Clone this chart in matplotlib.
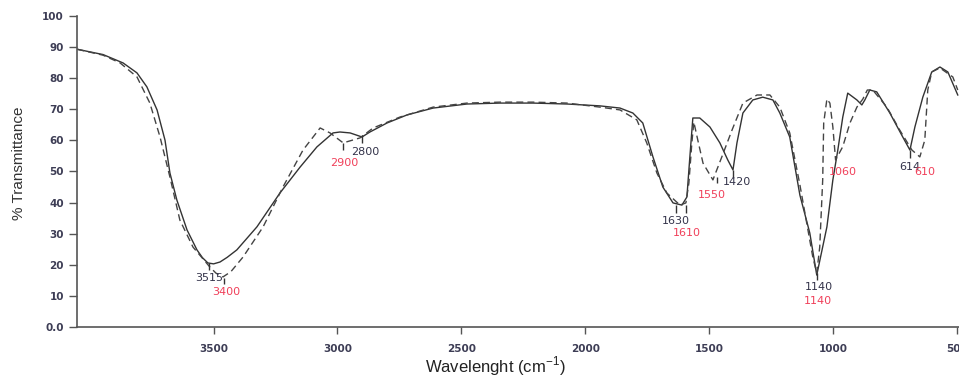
import matplotlib
matplotlib.use('Agg')
import matplotlib.pyplot as plt

# 데이터
solid_x = [4050, 3946, 3865, 3809, 3769, 3728, 3696, 3676, 3648, 3607, 3567, 3545, 3523, 3500, 3474,
           3445, 3406, 3325, 3232, 3151, 3083, 3018, 2990, 2949, 2901, 2869, 2800, 2719, 2614, 2477,
           2344, 2211, 2074, 1941, 1860, 1808, 1768, 1727, 1687, 1646, 1610, 1590, 1578, 1566, 1538,
           1497, 1457, 1425, 1404, 1388, 1364, 1324, 1284, 1243, 1215, 1175, 1134, 1094, 1066,
           1025, 1001, 981, 961, 941, 904, 884, 872, 852, 824, 771, 719, 690, 670, 638, 602,
           569, 537, 497]
solid_y = [89.3, 87.6, 84.9, 81.7, 77.2, 69.8, 60.1, 49.5, 40.8, 31.2, 24.8, 22.3, 20.6, 20.3, 20.9,
           22.4, 24.8, 32.2, 43.1, 51.4, 57.9, 62.4, 62.7, 62.4, 61.1, 62.7, 65.6, 68.2, 70.4, 71.7,
           72.0, 72.0, 71.7, 71.1, 70.4, 68.8, 65.6, 54.7, 45.0, 39.9, 39.2, 41.8, 54.7, 67.2, 67.2,
           64.3, 59.2, 53.7, 50.5, 59.2, 68.8, 73.0, 73.9, 73.0, 68.8, 61.1, 42.4, 30.2, 16.7,
           32.2, 47.3, 56.9, 67.5, 75.2, 73.0, 71.4, 73.0, 76.2, 75.6, 68.8, 61.1, 56.9, 64.3, 73.9, 82.0,
           83.6, 82.0, 74.6]

dash_x = [4050, 3946, 3877, 3809, 3757, 3716, 3676, 3636, 3583, 3515, 3490, 3462, 3430, 3381, 3300,
          3220, 3139, 3070, 3030, 2977, 2909, 2856, 2748, 2614, 2477, 2344, 2211, 2074, 1941, 1860,
          1792, 1752, 1711, 1671, 1618, 1594, 1582, 1570, 1562, 1546, 1525, 1485, 1449, 1408,
          1364, 1307, 1255, 1215, 1175, 1134, 1082, 1066, 1054, 1042, 1038, 1025, 1013, 1001,
          990, 961, 932, 904, 880, 862, 840, 783, 731, 682, 650, 630, 618, 602, 569, 517, 497]
dash_y = [89.3, 87.4, 84.9, 80.4, 72.0, 61.1, 48.2, 34.4, 25.7, 19.3, 17.3, 16.1, 17.8, 22.5, 32.2,
          45.0, 56.9, 64.0, 62.4, 59.2, 60.8, 64.0, 67.5, 70.7, 72.0, 72.3, 72.3, 72.0, 70.7, 69.8,
          66.6, 59.2, 49.5, 43.1, 39.2, 39.9, 46.3, 59.2, 65.9, 60.1, 52.7, 47.3, 54.7, 63.3,
          72.0, 74.6, 74.6, 70.7, 62.4, 45.7, 22.5, 17.4, 25.7, 47.3, 65.6, 73.3, 72.0, 64.3,
          53.7, 58.0, 65.6, 70.7, 73.3, 76.2, 76.2, 70.7, 63.3, 56.9, 54.7, 60.1, 76.2, 82.0,
          83.3, 80.4, 76.2]

# 피크 표시선 (x, 위, 아래)
mark_x = [3519, 2901, 1634, 1404, 1066, 690, 3458, 2977, 1595, 1469]
mark_top = [20.6, 61.7, 39.2, 50.5, 17.4, 56.9, 15.8, 59.2, 39.2, 48.2]
mark_bot = [18.3, 59.2, 36.7, 47.9, 15.1, 54.3, 13.8, 56.9, 36.7, 46.3]

# 피크 라벨
black_labels = ['3515', '2800', '1630', '1420', '1140', '614']
black_lx = [3519, 2889, 1634, 1390, 1059, 690]
black_ly = [15.9, 56.3, 34.2, 46.5, 12.9, 51.6]
red_labels = ['3400', '2900', '1610', '1550', '1140', '1060', '610']
red_lx = [3450, 2973, 1590, 1489, 1061, 961, 631]
red_ly = [11.3, 52.6, 30.1, 42.3, 8.4, 49.7, 49.7]

xticks = [3500, 3000, 2500, 2000, 1500, 1000, 500]
yticks = [0, 10, 20, 30, 40, 50, 60, 70, 80, 90, 100]
ytick_labels = ['0.0', '10', '20', '30', '40', '50', '60', '70', '80', '90', '100']

plt.rcParams['mathtext.fontset'] = 'custom'
plt.rcParams['mathtext.rm'] = 'Liberation Sans'

fig = plt.figure(figsize=(9.59, 3.78), dpi=100)
ax = fig.add_axes([0.0803, 0.1349, 0.9197, 0.8228])

ax.plot(solid_x, solid_y, color='#333333', lw=1.0)
ax.plot(dash_x, dash_y, color='#444444', lw=1.0, dashes=(5, 3))

ax.vlines(mark_x, mark_bot, mark_top, color='#333333', lw=1.0)

for t, x, y in zip(black_labels, black_lx, black_ly):
    ax.text(x, y, t, color='#33334a', fontsize=8, ha='center', va='center', family='DejaVu Sans')
for t, x, y in zip(red_labels, red_lx, red_ly):
    ax.text(x, y, t, color='#f0405a', fontsize=8, ha='center', va='center', family='DejaVu Sans')

ax.set_xlim(4051, 492)
ax.set_ylim(0, 100)
ax.spines['top'].set_visible(False)
ax.spines['right'].set_visible(False)
for s in ['left', 'bottom']:
    ax.spines[s].set_color('#555555')
    ax.spines[s].set_linewidth(1.2)

ax.set_xticks(xticks)
ax.set_xticklabels([str(v) for v in xticks])
ax.set_yticks(yticks)
ax.set_yticklabels(ytick_labels)
ax.tick_params(axis='x', length=5, width=1, color='#555555', pad=7)
ax.tick_params(axis='y', length=6, width=1, color='#555555', pad=3.5)
for lab in ax.get_xticklabels() + ax.get_yticklabels():
    lab.set_fontsize(7.5)
    lab.set_fontweight('bold')
    lab.set_color('#3d3d55')
    lab.set_family('DejaVu Sans')

fig.text(19 / 959, 1 - 163 / 378, '% Transmittance', rotation=90, ha='center', va='center',
         fontsize=11, color='#333333', family='Liberation Sans')
fig.text(495 / 959, 1 - 366 / 378, r'Wavelenght (cm$^{-1}$)', ha='center', va='center',
         fontsize=12, color='#222222', family='Liberation Sans')

fig.savefig('out.png', dpi=100)
